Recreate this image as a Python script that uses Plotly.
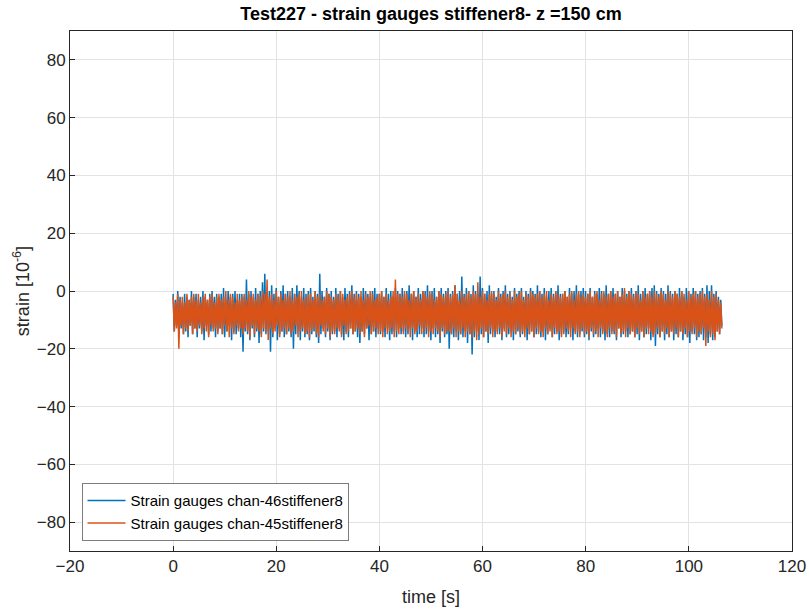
import numpy as np
import plotly.graph_objects as go

# Strain records (10^-6): successive local maxima / minima of each channel
chan46 = [
    -1, -14, -3, -12, 0, -16, -2, -13, -4, -15, -1, -14, -2, -16, -3, -12, 0, -15, -2, -13,
    -1, -16, -3, -13, -2, -14, 0, -17, -2, -12, -3, -15, -1, -14, 0, -13, -2, -16, -1, -14,
    -2, -13, -1, -15, 1, -16, -3, -14, 0, -12, -2, -17, -1, -14, 0, -15, -3, -13, -1, -16,
    -1, -21, -2, -14, 4, -15, -1, -17, 0, -13, -2, -16, 1, -14, -1, -18, 0, -15, 3, -14,
    6, -15, -1, -14, 0, -21, 2, -16, -1, -13, 1, -17, -2, -15, 0, -14, 2, -16, -1, -15,
    0, -14, -2, -16, 1, -20, -1, -15, 2, -13, 0, -17, -2, -14, 1, -16, -1, -15, 0, -17,
    1, -15, -2, -14, 0, -16, -1, -18, 6, -15, 0, -13, -2, -16, 1, -14, -1, -17, 0, -15,
    -2, -14, 1, -16, -1, -13, 0, -15, -2, -17, 1, -14, -1, -16, 0, -13, 2, -15, -1, -14,
    0, -16, -1, -18, -2, -14, 1, -15, 0, -13, -1, -17, -2, -15, 0, -14, 1, -16, -1, -13,
    -1, -15, 0, -14, -2, -16, 1, -13, -1, -17, 0, -15, -2, -14, 1, -16, 0, -13, -1, -15,
    1, -14, -1, -16, 0, -15, 2, -13, -1, -17, 0, -14, -2, -16, 1, -15, -1, -13, 0, -16,
    0, -15, 2, -14, -1, -17, 0, -13, 1, -16, -2, -15, 0, -18, 1, -14, -1, -16, 0, -15,
    1, -20, -1, -15, 0, -16, 2, -14, -1, -17, 0, -15, 5, -16, -1, -14, 1, -18, 0, -15,
    -1, -22, 2, -16, 0, -14, -1, -17, 5, -15, 1, -16, -1, -14, 0, -18, 2, -15, -1, -14,
    0, -16, -2, -14, 1, -15, -1, -17, 0, -13, 2, -16, -1, -15, 0, -14, -2, -17, 1, -15,
    -1, -14, 0, -16, 1, -15, -2, -13, 0, -17, -1, -15, 1, -14, 0, -16, -1, -15, 2, -14,
    0, -16, -1, -14, 1, -17, -2, -15, 0, -13, 1, -16, -1, -15, 0, -14, 2, -17, -1, -15,
    -1, -14, 0, -16, -2, -15, 1, -13, -1, -17, 0, -14, 2, -16, -1, -15, 0, -14, 1, -16,
    0, -15, -1, -17, 1, -14, -2, -16, 0, -15, -1, -13, 1, -16, 0, -14, -1, -17, 2, -15,
    -1, -16, 0, -14, 1, -15, -1, -17, 0, -13, -2, -16, 1, -15, 0, -14, -1, -16, 0, -15,
    1, -14, -1, -16, 0, -15, 2, -17, -1, -14, 0, -16, 1, -15, -1, -13, 0, -17, 1, -15,
    2, -19, 0, -15, -1, -16, 1, -14, 0, -17, -1, -15, 2, -16, 0, -14, -1, -17, 0, -15,
    -1, -16, 1, -14, 0, -17, -2, -15, 1, -16, 0, -18, -1, -14, 1, -15, 0, -17, -1, -16,
    0, -15, 1, -17, -1, -16, 2, -18, 0, -15, 2, -17, -1, -16, 0, -14, -2, -15, -3, -12,
]
chan45 = [
    -2, -14, -4, -13, -1, -20, -3, -12, -2, -15, -4, -13, -1, -14, -3, -12, -2, -15, -1, -13,
    -3, -14, -1, -12, -4, -15, -2, -13, -1, -14, -3, -16, -2, -12, -1, -14, -4, -13, -2, -15,
    -1, -13, -3, -15, -2, -12, 0, -14, -3, -16, -1, -13, -2, -15, -4, -12, -1, -14, -3, -13,
    -2, -15, -1, -13, -3, -14, 0, -16, -2, -12, -1, -15, -3, -13, -1, -14, -2, -16, 0, -13,
    -1, -14, 4, -17, -2, -13, -1, -15, -3, -14, 0, -12, -2, -16, -1, -14, -3, -13, -1, -15,
    -2, -13, 0, -15, -3, -14, -1, -12, -2, -16, -1, -14, 0, -13, -3, -15, -2, -14, -1, -16,
    -1, -14, -3, -13, 0, -15, -2, -16, -1, -12, -3, -14, -2, -15, 0, -13, -1, -16, -2, -14,
    -3, -15, -1, -13, -2, -14, 0, -16, -1, -12, -3, -15, -2, -14, -1, -13, 0, -15, -2, -14,
    -1, -13, -2, -15, 0, -14, -3, -16, -1, -13, -2, -12, 0, -15, -1, -14, -3, -13, -2, -15,
    -1, -14, 0, -16, -2, -13, -1, -15, -3, -14, -2, -13, 0, -16, 4, -14, -1, -15, -1, -13,
    -2, -15, 0, -13, -1, -14, -3, -16, -1, -13, 0, -15, -2, -14, -1, -12, -3, -15, 0, -14,
    -1, -13, -2, -16, 0, -14, -1, -15, -3, -13, -2, -14, 0, -16, -1, -13, -2, -15, -1, -14,
    0, -14, -2, -15, -1, -13, 2, -16, -1, -14, -3, -15, 0, -13, -2, -16, -1, -14, 0, -15,
    -2, -16, 0, -14, -1, -17, 3, -15, -2, -13, 0, -16, -1, -14, -3, -15, -1, -13, 0, -16,
    -1, -14, -3, -15, 0, -13, -2, -16, -1, -14, 0, -15, -2, -13, -1, -16, -3, -14, 0, -15,
    -2, -13, -1, -15, 0, -14, -3, -16, -1, -13, -2, -15, 0, -14, -1, -16, -2, -13, -1, -15,
    0, -14, -2, -16, -1, -13, 0, -15, -3, -14, -1, -16, -2, -13, 0, -15, -1, -14, -2, -16,
    -1, -15, 0, -13, -2, -14, -1, -16, 0, -13, -3, -15, -1, -14, 0, -16, -2, -13, -1, -15,
    -2, -14, -1, -16, 0, -13, -2, -15, -1, -14, 0, -16, -3, -13, -1, -15, 0, -14, -2, -16,
    -1, -13, 0, -15, -2, -14, -1, -16, 0, -13, -2, -15, -1, -14, 1, -16, -2, -13, 0, -15,
    -1, -14, -2, -16, 0, -13, -1, -15, -3, -14, 0, -16, -2, -13, -1, -15, 0, -14, -2, -16,
    0, -15, -1, -13, -2, -16, 0, -14, -1, -15, -3, -13, 0, -16, -1, -14, -2, -15, 0, -13,
    -1, -16, -2, -14, 0, -15, -1, -13, -3, -16, 0, -14, -2, -15, -1, -13, 0, -16, -2, -14,
    -1, -15, 0, -13, -2, -19, -1, -14, -3, -16, 0, -15, -2, -17, -1, -14, -3, -15, -4, -13,
]
t_end = 106.4
time46 = np.linspace(0, t_end, len(chan46))
time45 = np.linspace(0, t_end, len(chan45))

x_ticks = [-20, 0, 20, 40, 60, 80, 100, 120]
y_ticks = [-80, -60, -40, -20, 0, 20, 40, 60, 80]

FONT = "Liberation Sans, Arial, sans-serif"

fig = go.Figure()
fig.add_trace(go.Scatter(x=time46, y=chan46, mode="lines",
                         line=dict(color="#0072BD", width=1.5),
                         name="Strain gauges chan-46stiffener8"))
fig.add_trace(go.Scatter(x=time45, y=chan45, mode="lines",
                         line=dict(color="#D95319", width=1.5),
                         name="Strain gauges chan-45stiffener8"))

axis_common = dict(
    showgrid=True, gridcolor="#E3E3E3", gridwidth=1, automargin=False,
    zeroline=False, showline=True, linecolor="#262626", linewidth=1,
    mirror=True, ticks="inside", ticklen=5, tickcolor="#262626",
    tickfont=dict(family=FONT, size=17, color="#262626"),
)

fig.update_layout(
    width=809, height=613,
    margin=dict(l=70, r=17, t=31, b=62),
    paper_bgcolor="white", plot_bgcolor="white",
    title=dict(text="<b>Test227 - strain gauges stiffener8- z =150 cm</b>",
               x=0.5, xanchor="center", xref="paper", y=0.977, yanchor="middle",
               font=dict(family=FONT, size=18, color="black")),
    xaxis=dict(range=[-20, 120], tickvals=x_ticks,
               title=dict(text="time [s]", standoff=14,
                          font=dict(family=FONT, size=18, color="#262626")),
               **axis_common),
    yaxis=dict(range=[-90, 90], tickvals=y_ticks,
               title=dict(text="strain [10<sup>-6</sup>]", standoff=2,
                          font=dict(family=FONT, size=18, color="#262626")),
               **axis_common),
    legend=dict(x=0.0165, y=0.02, xanchor="left", yanchor="bottom",
                bgcolor="white", bordercolor="#262626", borderwidth=0.6,
                font=dict(family=FONT, size=15, color="black"),
                tracegroupgap=0, itemwidth=38),
    showlegend=True,
)

fig.write_html("out.html")
